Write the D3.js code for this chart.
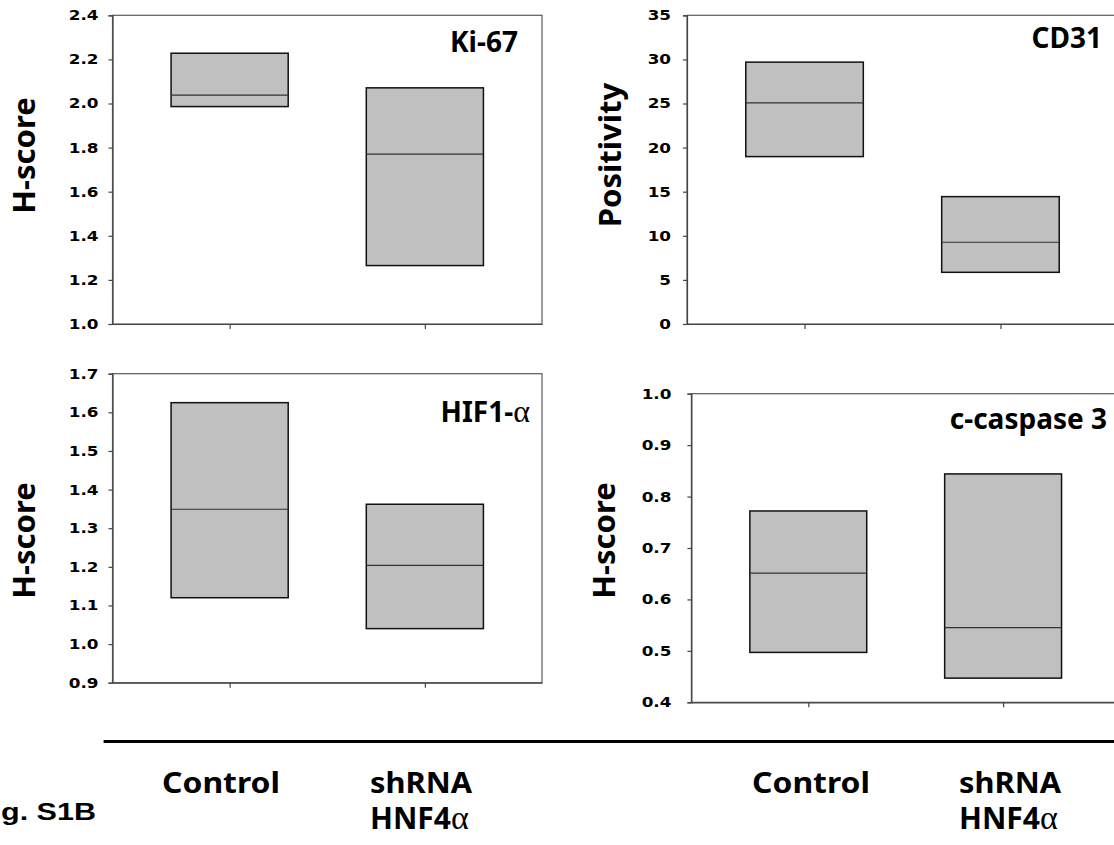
<!DOCTYPE html>
<html>
<head>
<meta charset="utf-8">
<script src="https://d3js.org/d3.v7.min.js"></script>
<style>
    body { margin: 0; background: #fff; }
    .tick text { font-family: "DejaVu Sans", sans-serif; font-weight: bold; font-size: 14px; fill: #000; }
    .title { font-family: "Noto Sans", sans-serif; font-weight: bold; }
</style>
</head>
<body>
<div id="chart"></div>
<script>
var width = 1114;
var height = 845;

var groups = ["Control", "shRNA HNF4a"];

// [low, median, high] for Control and shRNA
var ki67Control = [1.986, 2.038, 2.228];
var ki67Shrna = [1.265, 1.770, 2.071];
var cd31Control = [18.98, 25.07, 29.69];
var cd31Shrna = [5.86, 9.27, 14.44];
var hifControl = [1.120, 1.349, 1.625];
var hifShrna = [1.040, 1.204, 1.362];
var caspControl = [0.497, 0.651, 0.772];
var caspShrna = [0.447, 0.545, 0.844];

var ki67Ticks = [1.0, 1.2, 1.4, 1.6, 1.8, 2.0, 2.2, 2.4];
var cd31Ticks = [0, 5, 10, 15, 20, 25, 30, 35];
var hifTicks = [0.9, 1.0, 1.1, 1.2, 1.3, 1.4, 1.5, 1.6, 1.7];
var caspTicks = [0.4, 0.5, 0.6, 0.7, 0.8, 0.9, 1.0];

var panels = [
    { title: "Ki-67", alpha: false, ylabel: "H-score", data: [ki67Control, ki67Shrna], ticks: ki67Ticks, fmt: ".1f",
      left: 112.5, right: 542, top: 15.3, bottom: 324, pad: 10, titleX: 518, titleY: 52, labelX: 24, labelY: 155.5 },
    { title: "CD31", alpha: false, ylabel: "Positivity", data: [cd31Control, cd31Shrna], ticks: cd31Ticks, fmt: "d",
      left: 687, right: 1118, top: 15.3, bottom: 324, pad: 12, titleX: 1102, titleY: 48, labelX: 610, labelY: 155 },
    { title: "HIF1-", alpha: true, ylabel: "H-score", data: [hifControl, hifShrna], ticks: hifTicks, fmt: ".1f",
      left: 112.5, right: 542, top: 373.7, bottom: 682.7, pad: 10, titleX: 530, titleY: 422, labelX: 24, labelY: 540.5 },
    { title: "c-caspase 3", alpha: false, ylabel: "H-score", data: [caspControl, caspShrna], ticks: caspTicks, fmt: ".1f",
      left: 691.4, right: 1120, top: 393.7, bottom: 702.3, pad: 16, titleX: 1107, titleY: 429, labelX: 604, labelY: 540.5 }
];

var svg = d3.select("#chart")
    .append("svg")
    .attr("width", width)
    .attr("height", height);

panels.forEach(function(p) {
    var g = svg.append("g");

    var yScale = d3.scaleLinear()
        .domain(d3.extent(p.ticks))
        .range([p.bottom, p.top]);
    var xScale = d3.scalePoint()
        .domain(groups)
        .range([p.left, p.right])
        .padding(0.6);
    var boxW = xScale.step() * 0.6;

    // plot area frame
    g.append("rect")
        .attr("x", p.left)
        .attr("y", p.top)
        .attr("width", p.right - p.left)
        .attr("height", p.bottom - p.top)
        .attr("fill", "none")
        .attr("stroke", "#5a5a5a")
        .attr("stroke-width", 1.2);

    // boxes
    var boxes = g.selectAll(".box")
        .data(p.data)
        .enter()
        .append("g")
        .attr("class", "box");

    boxes.append("rect")
        .attr("x", function(d, i) { return xScale(groups[i]) - boxW / 2; })
        .attr("y", function(d) { return yScale(d[2]); })
        .attr("width", boxW)
        .attr("height", function(d) { return yScale(d[0]) - yScale(d[2]); })
        .attr("fill", "#c0c0c0")
        .attr("stroke", "#111")
        .attr("stroke-width", 1.5);

    boxes.append("line")
        .attr("x1", function(d, i) { return xScale(groups[i]) - boxW / 2; })
        .attr("x2", function(d, i) { return xScale(groups[i]) + boxW / 2; })
        .attr("y1", function(d) { return yScale(d[1]); })
        .attr("y2", function(d) { return yScale(d[1]); })
        .attr("stroke", "#333")
        .attr("stroke-width", 1.2);

    // y axis (labels are drawn a bit wider, like the original)
    var yAxis = g.append("g")
        .attr("transform", "translate(" + p.left + ",0)")
        .call(d3.axisLeft(yScale).tickValues(p.ticks).tickFormat(d3.format(p.fmt)).tickSize(4).tickPadding(p.pad));
    yAxis.selectAll("path, line").attr("stroke", "#444").attr("stroke-width", 1.2);
    yAxis.selectAll(".tick text")
        .attr("transform", "scale(1.2,1)")
        .attr("x", -(4 + p.pad) / 1.2);

    // x axis, ticks only
    var xAxis = g.append("g")
        .attr("transform", "translate(0," + p.bottom + ")")
        .call(d3.axisBottom(xScale).tickFormat("").tickSize(5).tickSizeOuter(0));
    xAxis.selectAll("path, line").attr("stroke", "#444").attr("stroke-width", 1.2);

    // panel title
    var t = g.append("text")
        .attr("class", "title")
        .attr("x", p.titleX)
        .attr("y", p.titleY)
        .attr("text-anchor", "end")
        .style("font-size", "28px")
        .text(p.title);
    if (p.alpha) {
        t.append("tspan")
            .style("font-family", "'Liberation Serif', serif")
            .style("font-weight", "normal")
            .style("font-size", "32px")
            .text("\u03b1");
    }

    // y axis label
    g.append("text")
        .attr("class", "title")
        .attr("transform", "translate(" + (p.labelX + 11) + "," + p.labelY + ") rotate(-90)")
        .attr("text-anchor", "middle")
        .style("font-size", "31px")
        .text(p.ylabel);
});

// bottom rule and group labels
svg.append("line")
    .attr("x1", 103.6)
    .attr("x2", width)
    .attr("y1", 741.5)
    .attr("y2", 741.5)
    .attr("stroke", "#000")
    .attr("stroke-width", 3);

var labelLefts = [[162, 370], [752, 959]];
labelLefts.forEach(function(xs) {
    svg.append("text")
        .attr("class", "title")
        .attr("x", xs[0])
        .attr("y", 793)
        .attr("textLength", 118)
        .attr("lengthAdjust", "spacingAndGlyphs")
        .style("font-size", "29px")
        .text("Control");
    svg.append("text")
        .attr("class", "title")
        .attr("x", xs[1])
        .attr("y", 793)
        .attr("textLength", 102)
        .attr("lengthAdjust", "spacingAndGlyphs")
        .style("font-size", "29px")
        .text("shRNA");
    var h = svg.append("text")
        .attr("class", "title")
        .attr("x", xs[1])
        .attr("y", 829)
        .style("font-size", "30px")
        .text("HNF4");
    h.append("tspan")
        .style("font-family", "'Liberation Serif', serif")
        .style("font-weight", "normal")
        .style("font-size", "34px")
        .text("\u03b1");
});

// figure tag, only its visible part
svg.append("text")
    .attr("x", 1)
    .attr("y", 820)
    .attr("textLength", 95)
    .attr("lengthAdjust", "spacingAndGlyphs")
    .style("font-family", "'Liberation Sans', Arial, sans-serif")
    .style("font-weight", "bold")
    .style("font-size", "24px")
    .text("g. S1B");
</script>
</body>
</html>
